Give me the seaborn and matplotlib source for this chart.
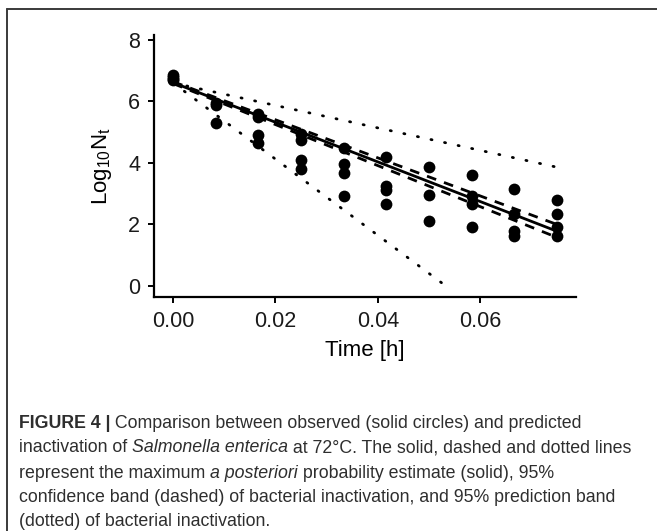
import matplotlib
matplotlib.use("Agg")
import matplotlib.pyplot as plt
import seaborn as sns
import pandas as pd
from matplotlib.lines import Line2D

# ---- data ----
time_h = [0.0, 0.0, 0.0, 0.0,
          0.00833, 0.00833, 0.00833,
          0.01667, 0.01667, 0.01667, 0.01667,
          0.025, 0.025, 0.025, 0.025,
          0.03333, 0.03333, 0.03333, 0.03333,
          0.04167, 0.04167, 0.04167, 0.04167,
          0.05, 0.05, 0.05,
          0.05833, 0.05833, 0.05833, 0.05833,
          0.06667, 0.06667, 0.06667, 0.06667,
          0.075, 0.075, 0.075, 0.075]
log_n = [6.85, 6.80, 6.72, 6.70,
         5.95, 5.88, 5.30,
         5.60, 5.50, 4.90, 4.65,
         4.95, 4.75, 4.10, 3.80,
         4.50, 3.95, 3.68, 2.92,
         4.20, 3.25, 3.12, 2.68,
         3.88, 2.97, 2.10,
         3.60, 2.93, 2.65, 1.92,
         3.15, 2.33, 1.80, 1.63,
         2.80, 2.35, 1.93, 1.62]

fit_x = [0.0, 0.075]
fit_y = [6.61, 1.78]
conf_upper_y = [6.64, 2.00]
conf_lower_y = [6.58, 1.58]
pred_upper_x = [0.0, 0.0745]
pred_upper_y = [6.60, 3.88]
pred_lower_x = [0.0, 0.0533]
pred_lower_y = [6.60, 0.0]

x_ticks = [0.00, 0.02, 0.04, 0.06]
x_tick_labels = ["0.00", "0.02", "0.04", "0.06"]
y_ticks = [0, 2, 4, 6, 8]

sns.set_theme(style="ticks")
plt.rcParams["font.family"] = ["Liberation Sans", "DejaVu Sans"]
plt.rcParams["mathtext.fontset"] = "custom"
plt.rcParams["mathtext.rm"] = "Liberation Sans"
plt.rcParams["mathtext.it"] = "Liberation Sans:italic"

fig = plt.figure(figsize=(6.57, 5.31), dpi=100)
W, H = 657, 531
ax = fig.add_axes([154 / W, 1 - 297 / H, 422 / W, (297 - 35) / H])

pts = pd.DataFrame({"time": time_h, "logN": log_n})
sns.scatterplot(data=pts, x="time", y="logN", ax=ax, color="black",
                s=72, edgecolor="black", linewidth=0, zorder=3)

fit_df = pd.DataFrame({"x": fit_x, "fit": fit_y, "cu": conf_upper_y, "cl": conf_lower_y})
sns.lineplot(data=fit_df, x="x", y="fit", ax=ax, color="black", linewidth=2.0)
sns.lineplot(data=fit_df, x="x", y="cu", ax=ax, color="black", linewidth=2.0,
             linestyle=(0, (3.5, 3.0)))
sns.lineplot(data=fit_df, x="x", y="cl", ax=ax, color="black", linewidth=2.0,
             linestyle=(0, (3.5, 3.0)))
pu = pd.DataFrame({"x": pred_upper_x, "y": pred_upper_y})
pl = pd.DataFrame({"x": pred_lower_x, "y": pred_lower_y})
sns.lineplot(data=pu, x="x", y="y", ax=ax, color="black", linewidth=2.0,
             linestyle=(0, (0.4, 4.6)), dash_capstyle="round")
sns.lineplot(data=pl, x="x", y="y", ax=ax, color="black", linewidth=2.0,
             linestyle=(0, (0.4, 4.6)), dash_capstyle="round")

ax.set_xlim(-0.00375, 0.07875)
ax.set_ylim(-0.36, 8.16)
ax.set_xticks(x_ticks)
ax.set_xticklabels(x_tick_labels)
ax.set_yticks(y_ticks)
for s in ["top", "right"]:
    ax.spines[s].set_visible(False)
for s in ["left", "bottom"]:
    ax.spines[s].set_linewidth(1.6)
    ax.spines[s].set_color("black")
ax.tick_params(axis="both", length=4, width=1.4, color="black",
               labelsize=15.5, labelcolor="#1a1a1a", pad=6)
ax.set_xlabel("Time [h]", fontsize=16, color="black", labelpad=6)
ax.set_ylabel(r"Log$_{\mathrm{10}}$N$_{\mathrm{t}}$", fontsize=16, color="black", labelpad=10)

# ---- frame (top and left edges) ----
fig.add_artist(Line2D([7 / W, 1.0], [1 - 9 / H, 1 - 9 / H], transform=fig.transFigure,
                      color="#3a3a3a", linewidth=1.4))
fig.add_artist(Line2D([7 / W, 7 / W], [0.0, 1 - 9 / H], transform=fig.transFigure,
                      color="#3a3a3a", linewidth=1.4))

# ---- caption ----
cap_color = "#2e2e2e"
cap_size = 12.8
lines = [
    [("FIGURE 4 |", "bold", "normal"), (" Comparison between observed (solid circles) and predicted", "normal", "normal")],
    [("inactivation of ", "normal", "normal"), ("Salmonella enterica", "normal", "italic"),
     (" at 72°C. The solid, dashed and dotted lines", "normal", "normal")],
    [("represent the maximum ", "normal", "normal"), ("a posteriori", "normal", "italic"),
     (" probability estimate (solid), 95%", "normal", "normal")],
    [("confidence band (dashed) of bacterial inactivation, and 95% prediction band", "normal", "normal")],
    [("(dotted) of bacterial inactivation.", "normal", "normal")],
]
line_y = [423, 448, 473, 497, 522]
renderer = fig.canvas.get_renderer()
for parts, yy in zip(lines, line_y):
    x_px = 19
    for txt, weight, style in parts:
        t = fig.text(x_px / W, 1 - yy / H, txt, fontsize=cap_size, fontweight=weight,
                     fontstyle=style, color=cap_color, va="center", ha="left")
        bb = t.get_window_extent(renderer=renderer)
        x_px += bb.width

fig.savefig("out.png", dpi=100)
